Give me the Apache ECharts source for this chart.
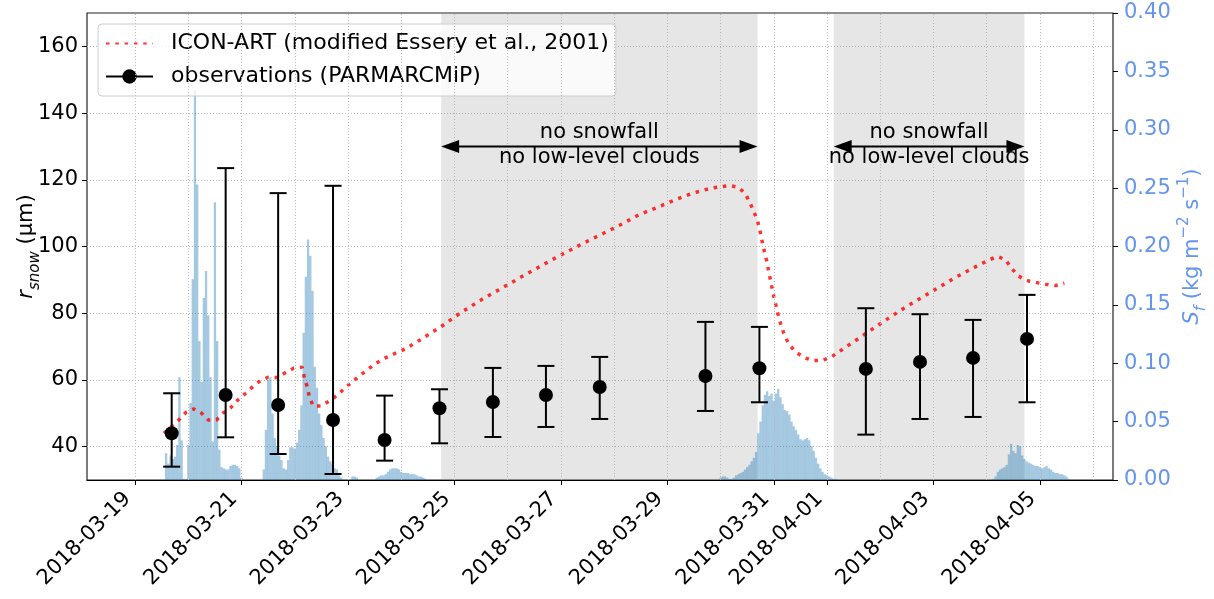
<!DOCTYPE html>
<html><head><meta charset="utf-8">
<script src="https://cdn.jsdelivr.net/npm/echarts@6/dist/echarts.min.js"></script>
<style>html,body{margin:0;padding:0;background:#fff}#c{width:1214px;height:599px}</style>
</head><body><div id="c"></div>
<script>
// ---------------- data ----------------
const xRange = ['2018-03-18 02:50', '2018-04-06 08:25'];
const tickDates = ['2018-03-19','2018-03-21','2018-03-23','2018-03-25','2018-03-27','2018-03-29','2018-03-31','2018-04-01','2018-04-03','2018-04-05'];
const gridDays = ['2018-03-19','2018-03-20','2018-03-21','2018-03-22','2018-03-23','2018-03-24','2018-03-25','2018-03-26','2018-03-27','2018-03-28','2018-03-29','2018-03-30','2018-03-31','2018-04-01','2018-04-02','2018-04-03','2018-04-04','2018-04-05','2018-04-06'];
const rTicks = [40, 60, 80, 100, 120, 140, 160];

// ICON-ART modelled snow grain radius (µm)
const modelTimes = ['2018-03-19 13:00','2018-03-19 20:00','2018-03-19 23:00','2018-03-20 02:30','2018-03-20 06:00','2018-03-20 09:00','2018-03-20 12:45','2018-03-20 15:45','2018-03-20 19:00','2018-03-20 22:20',
 '2018-03-21 01:50','2018-03-21 05:05','2018-03-21 08:30','2018-03-21 12:00','2018-03-21 16:00','2018-03-21 19:50','2018-03-21 23:30','2018-03-22 03:20','2018-03-22 04:20','2018-03-22 05:35',
 '2018-03-22 06:35','2018-03-22 08:15','2018-03-22 11:50','2018-03-22 15:35','2018-03-22 19:20','2018-03-22 22:30','2018-03-23 01:50','2018-03-23 05:10','2018-03-23 08:40','2018-03-23 12:10',
 '2018-03-23 16:50','2018-03-23 21:20','2018-03-24 01:50','2018-03-24 08:30','2018-03-24 18:00','2018-03-25 02:30','2018-03-25 12:45','2018-03-25 20:30','2018-03-26 04:20','2018-03-26 11:50',
 '2018-03-26 19:20','2018-03-27 03:00','2018-03-27 11:05','2018-03-27 19:00','2018-03-28 02:50','2018-03-28 11:05','2018-03-28 19:20','2018-03-29 03:35','2018-03-29 11:30','2018-03-29 19:45',
 '2018-03-30 04:00','2018-03-30 08:10','2018-03-30 11:10','2018-03-30 13:20','2018-03-30 15:15','2018-03-30 16:45','2018-03-30 17:50','2018-03-30 18:45','2018-03-30 19:45','2018-03-30 20:50',
 '2018-03-30 22:00','2018-03-31 00:00','2018-03-31 02:30','2018-03-31 04:30','2018-03-31 06:40','2018-03-31 09:40','2018-03-31 13:20','2018-03-31 17:30','2018-03-31 21:40','2018-04-01 01:45',
 '2018-04-01 05:30','2018-04-01 09:15','2018-04-01 12:40','2018-04-01 19:55','2018-04-02 03:15','2018-04-02 10:40','2018-04-02 18:15','2018-04-03 01:45','2018-04-03 09:15','2018-04-03 17:10',
 '2018-04-04 01:00','2018-04-04 05:00','2018-04-04 08:30','2018-04-04 11:10','2018-04-04 14:10','2018-04-04 17:55','2018-04-04 22:15','2018-04-05 02:30','2018-04-05 07:00','2018-04-05 11:00'];
const modelValues = [44.0,48.2,50.3,51.3,50.0,48.0,48.0,50.1,51.6,54.0,
 56.0,58.0,59.8,60.8,60.7,62.2,63.5,63.8,60.7,58.0,
 55.0,52.2,52.2,53.7,55.5,57.5,59.4,61.2,63.0,64.8,
 66.6,68.0,69.3,72.0,76.0,80.0,84.3,87.2,90.2,93.0,
 95.8,98.5,101.3,103.9,106.5,109.5,111.7,114.0,116.0,117.5,
 118.3,117.7,115.8,113.0,110.0,107.5,104.5,101.5,98.5,95.5,
 91.5,85.0,78.0,74.0,70.8,68.5,66.8,65.8,65.8,66.8,
 68.5,70.2,71.7,75.0,78.3,81.5,84.5,87.5,90.5,93.3,
 96.0,97.0,96.0,93.5,91.2,89.8,89.2,88.7,88.3,89.0];

// PARMARCMiP observations: mean and error-bar ends (µm)
const obsTimes = ['2018-03-19 16:30','2018-03-20 16:50','2018-03-21 16:30','2018-03-22 17:15','2018-03-23 16:30','2018-03-24 17:15','2018-03-25 17:20','2018-03-26 17:15','2018-03-27 17:30','2018-03-29 17:10','2018-03-30 17:30','2018-04-01 17:30','2018-04-02 17:55','2018-04-03 17:50','2018-04-04 18:10'];
const obsValues = [44.0, 55.5, 52.5, 48.0, 42.0, 51.5, 53.4, 55.5, 57.9, 61.2, 63.5, 63.3, 65.4, 66.6, 72.3];
const obsLow    = [34.0, 42.8, 37.8, 31.8, 35.8, 41.0, 42.9, 45.9, 48.3, 50.7, 53.3, 43.6, 48.3, 48.9, 53.3];
const obsHigh   = [56.0, 123.5, 116.0, 118.2, 55.3, 57.2, 63.6, 64.2, 66.9, 77.4, 75.9, 81.5, 79.7, 78.0, 85.5];

// Snowfall rate S_f (kg m-2 s-1), hourly bars per event (first value at start time)
const snowStart1 = '2018-03-19 14:00';
const snow1 = [0.023,0.014,0.021,0.018,0.020,0.030,0.088,0.034,0.001,0.001,0.030,0.066,0.172,0.334,0.253,0.119,0.084,0.156,0.179,0.141,0.088,0.033,0.238,0.119,0.026,0.011,0.010,0.009,0.009,0.012,0.013,0.013,0.012,0.010,0.002];
const snowStart2 = '2018-03-21 10:00';
const snow2 = [0.009,0.043,0.086,0.088,0.057,0.036,0.029,0.021,0.017,0.010,0.009,0.017,0.028,0.028,0.027,0.032,0.043,0.064,0.126,0.174,0.206,0.192,0.162,0.097,0.079,0.057,0.047,0.036,0.029,0.020,0.016,0.014,0.010,0.009,0.004,0.002];
const snowStart3 = '2018-03-23 02:00';
const snow3 = [0.003,0.003,0.002,0,0,0,0,0,0,0,0,0.002,0.003,0.004,0.004,0.005,0.007,0.009,0.010,0.010,0.010,0.009,0.007,0.006,0.006,0.006,0.005,0.005,0.005,0.004,0.003,0.003,0.002,0.001];
const snowStart4 = '2018-03-30 00:00';
const snow4 = [0.002,0.003,0.003,0.002,0.001,0.001,0.002,0.004,0.005,0.006,0.007,0.009,0.011,0.013,0.016,0.019,0.024,0.040,0.050,0.064,0.073,0.076,0.072,0.074,0.068,0.074,0.078,0.071,0.065,0.060,0.059,0.056,0.050,0.046,0.043,0.039,0.035,0.034,0.035,0.036,0.034,0.029,0.025,0.019,0.014,0.010,0.007,0.005,0.004,0.003,0.002,0.001,0.001];
const snowStart5 = '2018-04-04 03:00';
const snow5 = [0.001,0.003,0.007,0.009,0.010,0.011,0.013,0.022,0.031,0.025,0.023,0.030,0.029,0.021,0.018,0.016,0.015,0.014,0.013,0.012,0.012,0.011,0.010,0.011,0.012,0.010,0.009,0.007,0.006,0.006,0.005,0.005,0.004,0.003,0.001];

// shaded periods and their annotation
const shadeSpans = [['2018-03-24 18:00','2018-03-30 16:40'], ['2018-04-01 03:00','2018-04-04 17:00']];
const annotationLines = ['no snowfall', 'no low-level clouds'];
const annotationLevel = 130;

// ---------------- helpers ----------------
function t(s) {
  const [d, hm] = s.split(' ');
  const [Y, M, D] = d.split('-').map(Number);
  const [h, m] = (hm || '00:00').split(':').map(Number);
  return new Date(Y, M - 1, D, h, m).getTime();
}
const FONT = 'DejaVu Sans';
const BLUE_TXT = '#6495ED';
const GRID_COLOR = '#b8b8b8';

const snowEvents = [[snowStart1, snow1], [snowStart2, snow2], [snowStart3, snow3], [snowStart4, snow4], [snowStart5, snow5]];
const barData = [];
snowEvents.forEach(([st, vals]) => {
  const t0 = t(st);
  vals.forEach((v, i) => { if (v > 0) barData.push([t0 + i * 3600e3, v]); });
});
const modelData = modelTimes.map((s, i) => [t(s), modelValues[i]]);
const obsData = obsTimes.map((s, i) => [t(s), obsValues[i]]);
const errData = obsTimes.map((s, i) => [t(s), obsLow[i], obsHigh[i]]);
const annData = shadeSpans.map(sp => [t(sp[0]), t(sp[1]), annotationLevel]);

const chart = echarts.init(document.getElementById('c'), null, {renderer: 'canvas'});
const option = {
  animation: false,
  textStyle: {fontFamily: FONT},
  grid: {left: 87, right: 101, top: 13, bottom: 119, containLabel: false, outerBoundsMode: 'none',
         show: true, borderColor: '#222', borderWidth: 1.2, backgroundColor: 'transparent'},
  legend: {
    left: 98, top: 24, orient: 'vertical',
    padding: [7, 7, 7, 7], itemGap: 8, itemWidth: 47, itemHeight: 18,
    backgroundColor: 'rgba(255,255,255,0.8)', borderColor: '#cccccc', borderWidth: 1, borderRadius: 4,
    textStyle: {fontSize: 22, color: '#000', fontFamily: FONT, padding: [0, 0, 0, 13], lineHeight: 25},
    data: [
      {name: 'ICON-ART (modified Essery et al., 2001)', itemStyle: {opacity: 0}},
      {name: 'observations (PARMARCMiP)'}
    ]
  },
  xAxis: [{
    type: 'time', min: t(xRange[0]), max: t(xRange[1]), z: 10,
    axisLine: {show: true, onZero: false, lineStyle: {color: '#000', width: 1.2}},
    axisTick: {show: true, length: 5, lineStyle: {color: '#000', width: 1}, customValues: tickDates.map(t)},
    axisLabel: {customValues: tickDates.map(t), rotate: 45, fontSize: 21, color: '#000', margin: 23,
      verticalAlign: 'bottom', formatter: '{yyyy}-{MM}-{dd}', hideOverlap: false, fontFamily: FONT},
    splitLine: {show: false}
  }],
  yAxis: [{
    type: 'value', min: 30, max: 170, splitNumber: 7, position: 'left',
    axisLine: {show: false},
    axisTick: {show: true, length: 5, lineStyle: {color: '#000'}, customValues: rTicks},
    axisLabel: {customValues: rTicks, fontSize: 21, color: '#000', margin: 9, fontFamily: FONT},
    splitLine: {show: true, lineStyle: {color: GRID_COLOR, type: [1, 2], width: 1}},
    name: '{i|r}{sub|snow} (µm)', nameLocation: 'middle', nameGap: 44, nameMoveOverlap: false,
    nameTextStyle: {fontSize: 21, color: '#000', lineHeight: 32, fontFamily: FONT,
      rich: {i: {fontStyle: 'italic', fontSize: 21, lineHeight: 32, fontFamily: FONT},
             sub: {fontStyle: 'italic', fontSize: 15, lineHeight: 20, verticalAlign: 'bottom', fontFamily: FONT}}}
  }, {
    type: 'value', min: 0, max: 0.4, interval: 0.05, position: 'right',
    axisLine: {show: false},
    axisTick: {show: true, length: 5, lineStyle: {color: '#000'}},
    axisLabel: {fontSize: 21, color: BLUE_TXT, margin: 11, formatter: v => v.toFixed(2), fontFamily: FONT},
    splitLine: {show: false},
    name: '{i|S}{sub|f} (kg m{sup|−2} s{sup|−1})', nameLocation: 'middle', nameGap: 64, nameMoveOverlap: false,
    nameTextStyle: {fontSize: 21, color: BLUE_TXT, lineHeight: 32, fontFamily: FONT,
      rich: {i: {fontStyle: 'italic', fontSize: 21, lineHeight: 32, color: BLUE_TXT, fontFamily: FONT},
             sub: {fontStyle: 'italic', fontSize: 15, lineHeight: 20, verticalAlign: 'bottom', color: BLUE_TXT, fontFamily: FONT},
             sup: {fontSize: 15, lineHeight: 20, verticalAlign: 'top', color: BLUE_TXT, fontFamily: FONT}}}
  }],
  series: [
    { // shaded periods
      type: 'line', data: [], z: 0, silent: true,
      markArea: {silent: true, itemStyle: {color: 'rgba(128,128,128,0.2)'},
        data: shadeSpans.map(sp => [{xAxis: t(sp[0])}, {xAxis: t(sp[1])}])}
    },
    { // daily vertical grid lines
      type: 'line', data: [], z: 1, silent: true,
      markLine: {silent: true, symbol: ['none', 'none'], label: {show: false},
        lineStyle: {color: GRID_COLOR, type: [1, 2], width: 1},
        data: gridDays.map(d => ({xAxis: t(d)}))}
    },
    {
      name: 'snowfall', type: 'bar', yAxisIndex: 1, data: barData, barWidth: 2.3, z: 2,
      itemStyle: {color: 'rgba(31,119,180,0.4)'}
    },
    {
      name: 'ICON-ART (modified Essery et al., 2001)', type: 'line', data: modelData, z: 3,
      symbol: 'none', smooth: false,
      lineStyle: {color: 'rgba(255,0,0,0.8)', width: 3.5, type: [3.5, 5.8], cap: 'butt'},
      itemStyle: {color: 'rgba(255,0,0,0.8)'}
    },
    {
      name: 'observations (PARMARCMiP)', type: 'line', data: [], symbol: 'circle', symbolSize: 14,
      lineStyle: {color: '#000', width: 1.5}, itemStyle: {color: '#000'}
    },
    {
      name: 'errorbars', type: 'custom', data: errData, z: 4,
      encode: {x: 0, y: [1, 2]},
      renderItem: (params, api) => {
        const x = api.value(0);
        const p1 = api.coord([x, api.value(1)]);
        const p2 = api.coord([x, api.value(2)]);
        const cap = 8.5;
        const style = {stroke: '#000', lineWidth: 2};
        return {type: 'group', children: [
          {type: 'line', shape: {x1: p1[0], y1: p1[1], x2: p2[0], y2: p2[1]}, style},
          {type: 'line', shape: {x1: p1[0] - cap, y1: p1[1], x2: p1[0] + cap, y2: p1[1]}, style},
          {type: 'line', shape: {x1: p2[0] - cap, y1: p2[1], x2: p2[0] + cap, y2: p2[1]}, style}
        ]};
      }
    },
    {
      name: 'obs points', type: 'scatter', data: obsData, symbol: 'circle', symbolSize: 14, z: 5,
      itemStyle: {color: '#000', opacity: 1}
    },
    {
      name: 'annotations', type: 'custom', data: annData, z: 6, silent: true,
      encode: {x: [0, 1], y: 2},
      renderItem: (params, api) => {
        const a = api.coord([api.value(0), api.value(2)]);
        const b = api.coord([api.value(1), api.value(2)]);
        const y = a[1], hl = 18, hw = 6.5, mid = (a[0] + b[0]) / 2;
        const fs = {fill: '#000'};
        return {type: 'group', children: [
          {type: 'line', shape: {x1: a[0] + hl - 1, y1: y, x2: b[0] - hl + 1, y2: y}, style: {stroke: '#000', lineWidth: 2}},
          {type: 'polygon', shape: {points: [[a[0], y], [a[0] + hl, y - hw], [a[0] + hl, y + hw]]}, style: fs},
          {type: 'polygon', shape: {points: [[b[0], y], [b[0] - hl, y - hw], [b[0] - hl, y + hw]]}, style: fs},
          {type: 'text', x: mid, y: y - 3, style: {text: annotationLines[0], fill: '#000', fontSize: 21, fontFamily: FONT, align: 'center', verticalAlign: 'bottom'}},
          {type: 'text', x: mid, y: y + 1, style: {text: annotationLines[1], fill: '#000', fontSize: 21, fontFamily: FONT, align: 'center', verticalAlign: 'top'}}
        ]};
      }
    }
  ]
};
chart.setOption(option);
</script>
</body></html>
